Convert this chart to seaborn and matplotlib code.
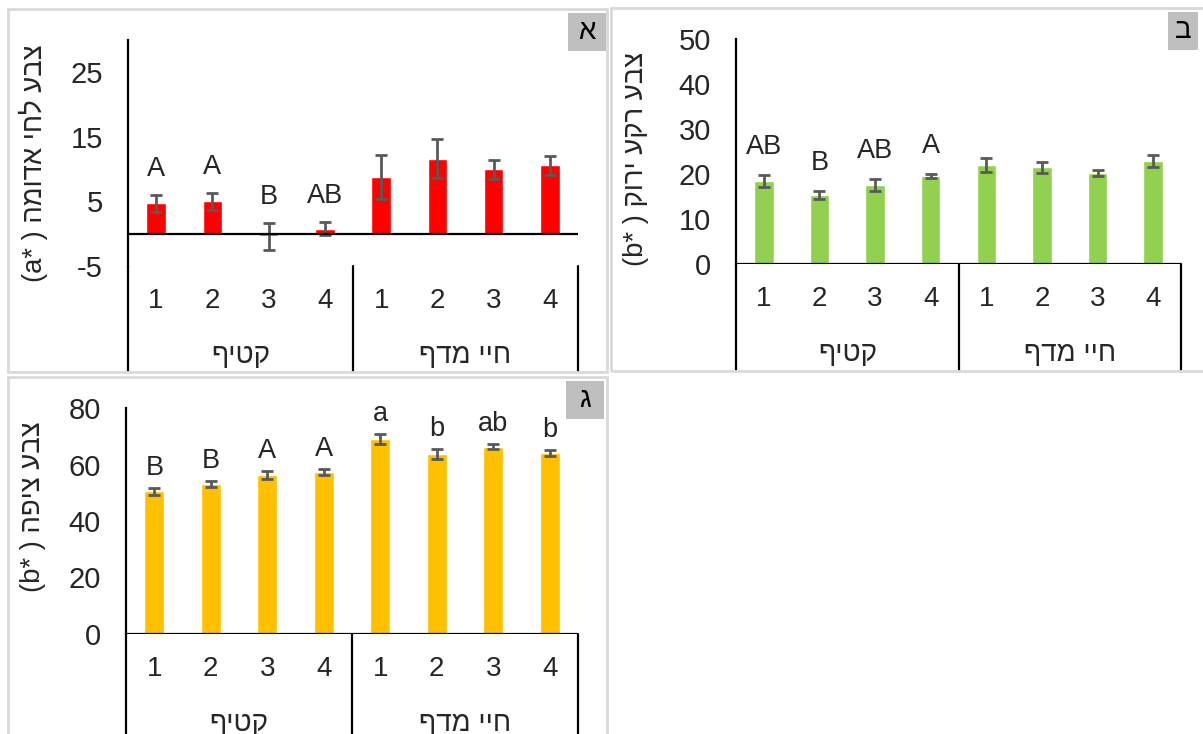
import matplotlib
matplotlib.use("Agg")
import matplotlib.pyplot as plt
import matplotlib.transforms as mtransforms
from matplotlib.patches import Rectangle
import pandas as pd
import seaborn as sns

# ---- data -------------------------------------------------------------
groups = ["קטיף", "חיי מדף"]
storage = ["1", "2", "3", "4"]

red_mean = [4.7, 5.0, -0.4, 0.8, 8.8, 11.6, 10.0, 10.6]
red_err = [1.3, 1.25, 2.1, 0.95, 3.45, 3.0, 1.45, 1.5]
red_letters = ["A", "A", "B", "AB", "", "", "", ""]

green_mean = [18.4, 15.3, 17.6, 19.6, 22.1, 21.5, 20.2, 22.9]
green_err = [1.3, 0.95, 1.35, 0.45, 1.55, 1.2, 0.65, 1.4]
green_letters = ["AB", "B", "AB", "A", "", "", "", ""]

yellow_mean = [50.5, 53.1, 56.4, 57.5, 69.1, 63.7, 66.3, 64.1]
yellow_err = [1.24, 1.2, 1.4, 1.05, 1.8, 1.8, 0.95, 0.95]
yellow_letters = ["B", "B", "A", "A", "a", "b", "ab", "b"]

ylabel_red = "צבע לחי אדומה"
ylabel_green = "צבע רקע ירוק"
ylabel_yellow = "צבע ציפה"

# ---- style ------------------------------------------------------------
sns.set_style("white")
plt.rcParams["font.family"] = ["Liberation Sans", "DejaVu Sans"]
plt.rcParams["axes.unicode_minus"] = False

W, H = 1203, 734
fig = plt.figure(figsize=(W / 100, H / 100), dpi=100)
PX = 72 / 100  # points per pixel

FS_TICK = 21
FS_CAT = 20
FS_SIG = 19.5
FS_LABEL = 19.8
FS_TAG = 20
ERR_COLOR = "#595959"


def rtl(text):
    """Hebrew runs are laid out left to right by matplotlib, so flip them."""
    return text[::-1]


slots = [f"{g}|{s}" for g in groups for s in storage]


def frame(x0, y0, x1, y1):
    fig.patches.append(Rectangle((x0 / W, 1 - y1 / H), (x1 - x0) / W, (y1 - y0) / H,
                                 transform=fig.transFigure, fill=False,
                                 edgecolor="#d9d9d9", lw=2, zorder=0))


def tag(x0, y0, x1, y1, letter):
    fig.patches.append(Rectangle((x0 / W, 1 - y1 / H), (x1 - x0) / W, (y1 - y0) / H,
                                 transform=fig.transFigure, facecolor="#bfbfbf",
                                 edgecolor="none", zorder=1))
    fig.text((x0 + x1) / 2 / W, 1 - (y0 + y1) / 2 / H, letter, ha="center",
             va="center", fontsize=FS_TAG, color="black")


def panel(box, means, errs, letters, color, ylim, yticks, label, frame_bottom,
          label_xy, lift):
    l, t, r, b = box
    ax = fig.add_axes([l / W, 1 - b / H, (r - l) / W, (b - t) / H])
    df = pd.DataFrame({"slot": slots, "value": means})
    sns.barplot(data=df, x="slot", y="value", order=slots, color=color,
                saturation=1, width=0.35, errorbar=None, ax=ax, zorder=2)
    ax.errorbar(range(len(slots)), means, yerr=errs, fmt="none",
                ecolor=ERR_COLOR, elinewidth=2, capsize=4.2, capthick=2, zorder=3)

    ax.set_ylim(*ylim)
    ax.set_xlim(-0.5, len(slots) - 0.5)
    ax.set_yticks(yticks)
    ax.set_yticklabels([str(v) for v in yticks], fontsize=FS_TICK)
    ax.tick_params(axis="y", length=0, pad=18)
    ax.set_xticks([])
    ax.set_xlabel("")
    for side in ("top", "right"):
        ax.spines[side].set_visible(False)
    ax.spines["left"].set_color("black")
    ax.spines["left"].set_linewidth(1.6)
    ax.spines["bottom"].set_visible(False)
    ax.axhline(0, color="black", lw=1.6, zorder=4)
    ax.set_facecolor("none")

    ax.set_ylabel(label, fontsize=FS_LABEL)
    ax.yaxis.set_label_coords(*label_xy)
    ax.yaxis.label.set_verticalalignment("center")

    # multi-level category axis beneath the plot area
    trans = mtransforms.blended_transform_factory(ax.transData, ax.transAxes)
    depth = (frame_bottom - b) / (b - t)
    for xs in (-0.5, 3.5, 7.5):
        ax.plot([xs, xs], [0, -depth], transform=trans, clip_on=False,
                color="black", lw=1.6, zorder=5)
    for i, s in enumerate(slots):
        ax.annotate(s.split("|")[1], xy=(i, 0), xycoords=trans,
                    xytext=(0, -35 * PX), textcoords="offset points",
                    ha="center", va="center", fontsize=FS_CAT)
    for gi, g in enumerate(groups):
        ax.annotate(rtl(g), xy=(gi * 4 + 1.5, 0), xycoords=trans,
                    xytext=(0, -90 * PX), textcoords="offset points",
                    ha="center", va="center", fontsize=FS_CAT)

    # significance letters above the error bars
    for i, (m, e, txt) in enumerate(zip(means, errs, letters)):
        if txt:
            ax.annotate(txt, xy=(i, m + e), xytext=(0, lift * PX),
                        textcoords="offset points", ha="center",
                        va="baseline", fontsize=FS_SIG)
    return ax


# panel frames and corner tags
frame(8, 9, 607, 372)
frame(611, 8, 1210, 371)
frame(8, 377, 607, 800)
tag(568, 13, 606, 51, "א")
tag(1168, 12, 1198, 50, "ב")
tag(566, 381, 604, 419, "ג")

panel((128, 40, 578, 266), red_mean, red_err, red_letters, "#ff0000",
      (-5, 30), [-5, 5, 15, 25], f"(a* ) {rtl(ylabel_red)}", 372,
      (-0.211, 0.456), 19)
panel((736, 39, 1181, 264), green_mean, green_err, green_letters, "#92d050",
      (0, 50), [0, 10, 20, 30, 40, 50], f"(b* ) {rtl(ylabel_green)}", 371,
      (-0.225, 0.469), 21)
panel((126, 408, 578, 634), yellow_mean, yellow_err, yellow_letters, "#ffc000",
      (0, 80), [0, 20, 40, 60, 80], f"(b* ) {rtl(ylabel_yellow)}", 800,
      (-0.206, 0.562), 13)

fig.savefig("out.png", dpi=100)
